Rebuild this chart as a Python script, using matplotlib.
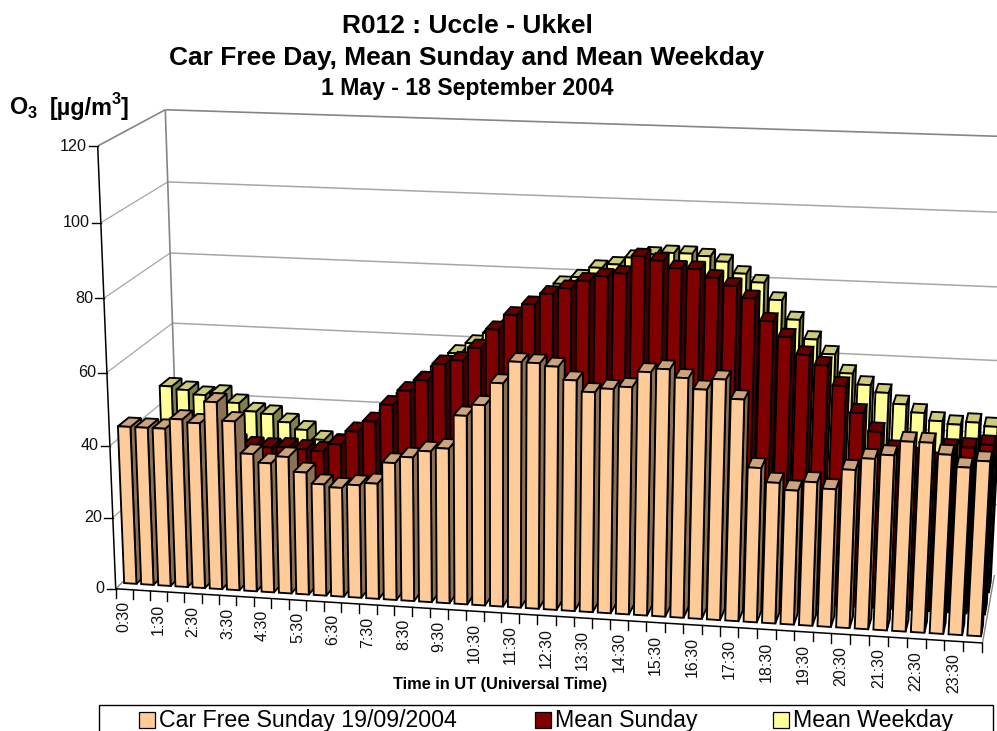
import numpy as np
import matplotlib
matplotlib.use('Agg')
import matplotlib.pyplot as plt
from matplotlib.patches import Polygon, Rectangle

plt.rcParams['font.family'] = ['Liberation Sans', 'DejaVu Sans']

# values, one per half hour
car_free = [44, 44, 44, 46.8, 46, 52, 47, 38.3, 36, 38, 34, 31, 30.3, 31.3, 32, 37.9,
            39.7, 41.6, 42.6, 51.7, 54.8, 60.9, 66.8, 66.7, 66, 62.6, 59.7, 60.8, 61.5, 65.7, 66.7, 64.6,
            61.8, 64.7, 59.7, 41.8, 38.1, 36.3, 38.8, 37.2, 42.6, 45.8, 47, 50.8, 50.8, 47.9, 44.8, 46.7]
mean_sunday = [38, 38, 38, 38, 37, 36, 35.3, 35.2, 35.5, 35.2, 34.9, 37.1, 40.9, 43.9, 48.8, 52.9,
               56, 60.7, 61.9, 65.5, 70.7, 74.8, 77.9, 80.9, 82.6, 84.8, 86.2, 87.1, 91.9, 90.9, 89.1, 89.1,
               87, 85.1, 82, 76.2, 72.2, 67.7, 65.1, 59.9, 52.9, 48.1, 43.5, 41.8, 40.8, 44.6, 45.1, 46.1]
mean_weekday = [45.8, 45, 43.8, 44.4, 42, 39.8, 39.3, 37.2, 35.3, 32.7, 32, 35, 38, 42, 47, 51,
                55, 59, 62, 65, 68, 71, 74, 79.4, 81.4, 84.2, 85.3, 87.3, 88.4, 89, 89, 88.5,
                87.2, 84.2, 82, 77.5, 72.4, 67.3, 63.5, 58.5, 55.6, 53.7, 50.8, 48.7, 46.7, 46, 46.8, 45.9]
hour_labels = ['0:30', '1:30', '2:30', '3:30', '4:30', '5:30', '6:30', '7:30', '8:30', '9:30', '10:30', '11:30',
               '12:30', '13:30', '14:30', '15:30', '16:30', '17:30', '18:30', '19:30', '20:30', '21:30', '22:30', '23:30']
y_ticks = [0, 20, 40, 60, 80, 100, 120]

n_cat = len(car_free)
y_max = 120.0

# perspective of the box, fitted on its corners (category, value, depth -> pixel)
box_3d = [(0, 0, 0), (1, 0, 0), (0, 1, 0), (1, 1, 0), (0, 0, 1), (1, 0, 1), (0, 1, 1), (1, 1, 1)]
box_px = [(115, 589), (983, 642), (98, 147), (1007, 177), (180, 527), (994, 576), (165, 109), (1018, 137)]


def fit_projection(pts, pix):
    rows, rhs = [], []
    for (a, b, c), (x, y) in zip(pts, pix):
        rows.append([a, b, c, 1, 0, 0, 0, 0, -x * a, -x * b, -x * c])
        rows.append([0, 0, 0, 0, a, b, c, 1, -y * a, -y * b, -y * c])
        rhs += [x, y]
    sol = np.linalg.lstsq(np.array(rows, float), np.array(rhs, float), rcond=None)[0]
    return np.append(sol, 1).reshape(3, 4)


P = fit_projection(box_3d, box_px)


def project(cat, val, depth):
    # cat in categories, val in ug/m3, depth 0..1
    q = P @ np.array([cat / n_cat, val / y_max, depth, 1.0])
    return q[0] / q[2], q[1] / q[2]


fig = plt.figure(figsize=(9.97, 7.31), dpi=100)
ax = fig.add_axes([0, 0, 1, 1])
ax.set_xlim(0, 997)
ax.set_ylim(731, 0)
ax.axis('off')


def line3d(a, b, color, lw, z=1):
    p, q = project(*a), project(*b)
    ax.plot([p[0], q[0]], [p[1], q[1]], color=color, lw=lw, zorder=z, solid_capstyle='butt')


# walls
for t in y_ticks[1:-1]:
    line3d((0, t, 0), (0, t, 1), '#a6a6a6', 0.9)
    line3d((0, t, 1), (n_cat, t, 1), '#a6a6a6', 1.1)
line3d((0, 120, 0), (0, 120, 1), '#858585', 1.2)
line3d((0, 120, 1), (n_cat, 120, 1), '#858585', 1.2)
line3d((0, 0, 1), (0, 120, 1), '#858585', 1.2)
line3d((0, 0, 0), (0, 0, 1), '#858585', 1.0)
line3d((n_cat, 0, 0), (n_cat, 0, 1), '#858585', 1.0)


def draw_bar(i, val, d0, dw, front, top, side, z):
    u0, u1 = i + 0.14, i + 0.86
    d1 = d0 + dw
    ax.add_patch(Polygon([project(u1, 0, d0), project(u1, 0, d1), project(u1, val, d1), project(u1, val, d0)],
                         fc=side, ec='black', lw=1.35, zorder=z))
    ax.add_patch(Polygon([project(u0, val, d0), project(u1, val, d0), project(u1, val, d1), project(u0, val, d1)],
                         fc=top, ec='black', lw=1.35, zorder=z))
    ax.add_patch(Polygon([project(u0, 0, d0), project(u1, 0, d0), project(u1, val, d0), project(u0, val, d0)],
                         fc=front, ec='black', lw=1.35, zorder=z))


# back row first, then left to right inside a row
z = 2
for vals, d0, front, top, side in [(mean_weekday, 0.73, '#FFFF99', '#CCCC7A', '#80804D'),
                                   (mean_sunday, 0.40, '#800000', '#660000', '#400000'),
                                   (car_free, 0.09, '#FFCC99', '#CCA37A', '#8C7055')]:
    for i, v in enumerate(vals):
        draw_bar(i, v, d0, 0.16, front, top, side, z)
        z += 1

# value axis
line3d((0, 0, 0), (0, 120, 0), 'black', 1.1, z)
line3d((0, 0, 0), (n_cat, 0, 0), 'black', 1.1, z)
for t in y_ticks:
    x, y = project(0, t, 0)
    ax.plot([x - 9, x], [y, y], color='black', lw=1.0, zorder=z)
    ax.text(x - 11, y, str(t), ha='right', va='center', fontsize=11.6, color='#111111')

# category axis
for i in range(n_cat + 1):
    x, y = project(i, 0, 0)
    ax.plot([x, x], [y, y + 9], color='black', lw=1.0, zorder=z)
for k, lab in enumerate(hour_labels):
    x, y = project(2 * k + 0.5, 0, 0)
    ax.text(x, y + 12, lab, rotation=90, ha='center', va='top', fontsize=11.5, color='#111111')

# titles
ax.text(467, 26, 'R012 : Uccle - Ukkel', ha='center', va='center', fontsize=19, fontweight='bold')
ax.text(467, 58, 'Car Free Day, Mean Sunday and Mean Weekday', ha='center', va='center', fontsize=19, fontweight='bold')
ax.text(467, 89, '1 May - 18 September 2004', ha='center', va='center', fontsize=16.6, fontweight='bold')
ax.text(10, 108, 'O', ha='left', va='center', fontsize=16.8, fontweight='bold')
ax.text(28, 114, '3', ha='left', va='center', fontsize=11.7, fontweight='bold')
ax.text(50, 109, '[µg/m', ha='left', va='center', fontsize=16.8, fontweight='bold')
ax.text(112, 99, '3', ha='left', va='center', fontsize=11.7, fontweight='bold')
ax.text(121, 109, ']', ha='left', va='center', fontsize=16.8, fontweight='bold')
ax.text(500, 685, 'Time in UT (Universal Time)', ha='center', va='center', fontsize=11.8, fontweight='bold')

# legend, cut by the bottom of the picture
ax.add_patch(Rectangle((99, 705), 894, 40, fc='white', ec='black', lw=1.0, zorder=z))
for x0, col, lab in [(139, '#FFCC99', 'Car Free Sunday 19/09/2004'),
                     (535, '#800000', 'Mean Sunday'),
                     (773, '#FFFF99', 'Mean Weekday')]:
    ax.add_patch(Rectangle((x0, 712), 16, 16, fc=col, ec='black', lw=0.9, zorder=z + 1))
    ax.text(x0 + 20, 721, lab, ha='left', va='center', fontsize=16.7, zorder=z + 1)

fig.savefig('out.png', dpi=100)
